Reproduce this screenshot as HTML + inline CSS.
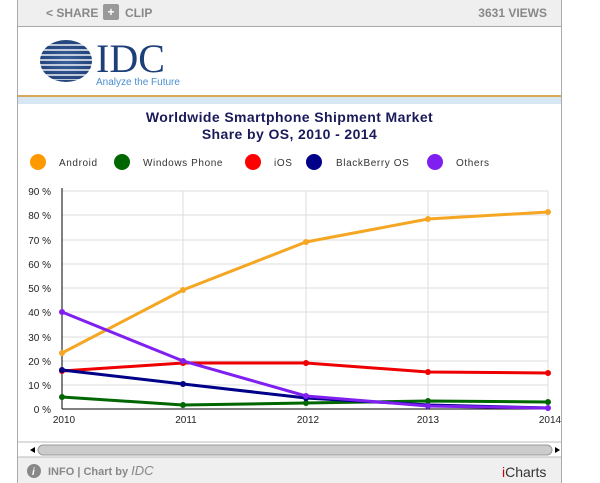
<!DOCTYPE html><html><head><style>
body{margin:0;width:600px;height:483px;background:#fff;font-family:"Liberation Sans",sans-serif;overflow:hidden;position:relative}
.f{position:absolute;left:17px;width:545px;border-left:1px solid #aaa;border-right:1px solid #aaa;box-sizing:border-box}
</style></head><body>
<div class="f" style="top:0;height:27px;background:#efefef;border-bottom:1px solid #aaa;color:#888;font-size:12px;font-weight:bold">
<span style="position:absolute;left:28px;top:6px">&lt; SHARE</span>
<span style="position:absolute;left:85px;top:4px;width:16px;height:16px;background:#999;border-radius:2px;color:#fff;text-align:center;line-height:16px">+</span>
<span style="position:absolute;left:107px;top:6px">CLIP</span>
<span style="position:absolute;right:14px;top:6px">3631 VIEWS</span></div>
<div class="f" style="top:27px;height:456px"></div>
<div style="position:absolute;left:40px;top:40px;width:52px;height:42px;border-radius:50%;background:radial-gradient(#3a5f9a,#1a3a70)"></div>
<div style="position:absolute;left:36px;top:44px;width:60px;height:36px;background:repeating-linear-gradient(#fff 0 2px,transparent 2px 5px);opacity:.7"></div>
<div style="position:absolute;left:96px;top:35px;font-family:'Liberation Serif',serif;font-size:40px;color:#1d3f7a">IDC</div>
<div style="position:absolute;left:96px;top:77px;font-size:10px;color:#4a8fd0">Analyze the Future</div>
<div style="position:absolute;left:18px;top:95px;width:543px;height:2px;background:#d9a95b"></div>
<div style="position:absolute;left:18px;top:97px;width:543px;height:7px;background:#d7e6f3"></div>
<div style="position:absolute;left:18px;top:109px;width:543px;text-align:center;font-weight:bold;font-size:14px;letter-spacing:0.4px;color:#1a1a5a;line-height:17px">Worldwide Smartphone Shipment Market<br>Share by OS, 2010 - 2014</div>
<svg style="position:absolute;left:0;top:0" width="600" height="483" font-family="Liberation Sans" font-size="10">
<g font-size="10" fill="#333" letter-spacing="0.6">
<circle cx="38" cy="162" r="8" fill="#f90"/><text x="59" y="166">Android</text>
<circle cx="122" cy="162" r="8" fill="#060"/><text x="143" y="166">Windows Phone</text>
<circle cx="253" cy="162" r="8" fill="#f00"/><text x="274" y="166">iOS</text>
<circle cx="314" cy="162" r="8" fill="#008"/><text x="336" y="166">BlackBerry OS</text>
<circle cx="435" cy="162" r="8" fill="#8020f0"/><text x="456" y="166">Others</text></g>
<g stroke="#ddd"><line x1="62" x2="548" y1="385" y2="385"/><line x1="62" x2="548" y1="361" y2="361"/><line x1="62" x2="548" y1="337" y2="337"/><line x1="62" x2="548" y1="312" y2="312"/><line x1="62" x2="548" y1="288" y2="288"/><line x1="62" x2="548" y1="264" y2="264"/><line x1="62" x2="548" y1="240" y2="240"/><line x1="62" x2="548" y1="215" y2="215"/><line x1="62" x2="548" y1="191" y2="191"/>
<line x1="183" x2="183" y1="191" y2="409"/><line x1="306" x2="306" y1="191" y2="409"/><line x1="428" x2="428" y1="191" y2="409"/><line x1="548" x2="548" y1="191" y2="409"/></g>
<line x1="62" x2="62" y1="188" y2="409" stroke="#000"/><line x1="62" x2="550" y1="409" y2="409" stroke="#000"/>
<g font-size="10" fill="#222" text-anchor="end"><text x="51" y="413">0 %</text><text x="51" y="389">10 %</text><text x="51" y="365">20 %</text><text x="51" y="341">30 %</text><text x="51" y="316">40 %</text><text x="51" y="292">50 %</text><text x="51" y="268">60 %</text><text x="51" y="244">70 %</text><text x="51" y="219">80 %</text><text x="51" y="195">90 %</text></g>
<g font-size="10" fill="#222" text-anchor="middle"><text x="64" y="423">2010</text><text x="186" y="423">2011</text><text x="308" y="423">2012</text><text x="428" y="423">2013</text><text x="550" y="423">2014</text></g>
<g fill="none" stroke-width="3">
<polyline stroke="#f5a623" points="62,353 183,290 306,242 428,219 548,212"/>
<polyline stroke="#060" points="62,397 183,405 306,403 428,401 548,402"/>
<polyline stroke="#e00" points="62,371 183,363 306,363 428,372 548,373"/>
<polyline stroke="#008" points="62,370 183,384 306,398 428,405 548,408"/>
<polyline stroke="#8020f0" points="62,312 183,361 306,396 428,406 548,408"/></g>
<g fill="#f5a623"><circle cx="62" cy="353" r="3"/><circle cx="183" cy="290" r="3"/><circle cx="306" cy="242" r="3"/><circle cx="428" cy="219" r="3"/><circle cx="548" cy="212" r="3"/></g>
<g fill="#060"><circle cx="62" cy="397" r="3"/><circle cx="183" cy="405" r="3"/><circle cx="306" cy="403" r="3"/><circle cx="428" cy="401" r="3"/><circle cx="548" cy="402" r="3"/></g>
<g fill="#e00"><circle cx="62" cy="371" r="3"/><circle cx="183" cy="363" r="3"/><circle cx="306" cy="363" r="3"/><circle cx="428" cy="372" r="3"/><circle cx="548" cy="373" r="3"/></g>
<g fill="#008"><circle cx="62" cy="370" r="3"/><circle cx="183" cy="384" r="3"/><circle cx="306" cy="398" r="3"/></g>
<g fill="#8020f0"><circle cx="62" cy="312" r="3"/><circle cx="183" cy="361" r="3"/><circle cx="306" cy="396" r="3"/><circle cx="428" cy="406" r="3"/><circle cx="548" cy="408" r="3"/></g>
<line x1="18" x2="561" y1="442" y2="442" stroke="#bbb"/>
<rect x="38" y="445" width="514" height="10" rx="5" fill="#ccc" stroke="#999"/>
<polygon points="30,450 35,447 35,453" fill="#000"/><polygon points="560,450 555,447 555,453" fill="#000"/>
<rect x="18" y="457" width="543" height="26" fill="#efefef"/><line x1="18" x2="561" y1="457" y2="457" stroke="#bbb"/>
<circle cx="34" cy="471" r="7" fill="#888"/><text x="32" y="475" fill="#fff" font-weight="bold" font-style="italic">i</text>
<text x="48" y="475" fill="#888" font-size="11" font-weight="bold">INFO  | Chart by <tspan font-style="italic" font-weight="normal" font-size="13">IDC</tspan></text>
<text x="502" y="477" font-size="14" fill="#333"><tspan fill="#c00">i</tspan>Charts</text>
</svg></body></html>
